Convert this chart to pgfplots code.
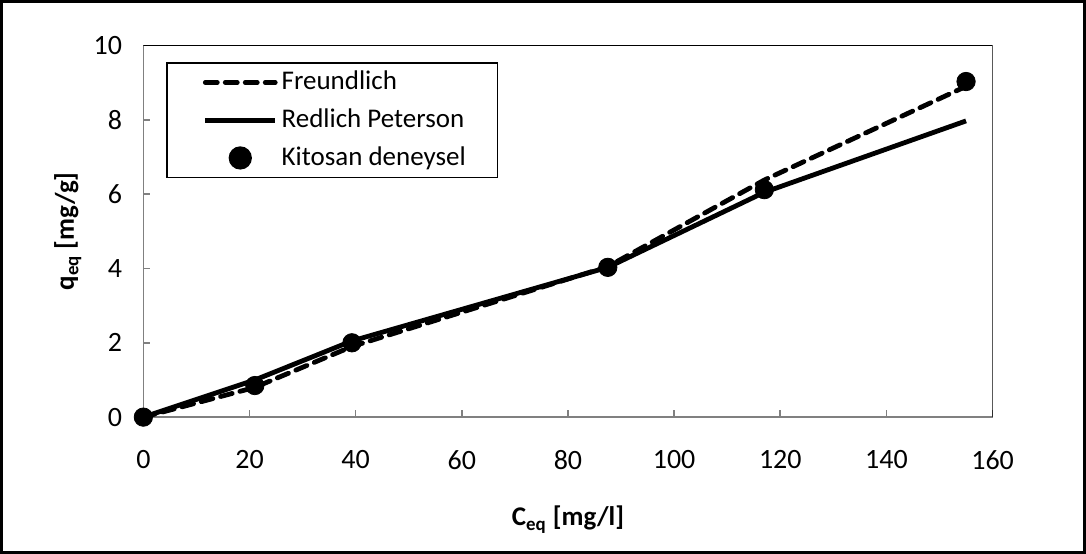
\documentclass[border=0pt]{standalone}
\usepackage{fontspec}
\setmainfont{Carlito}
\usepackage{pgfplots}
\pgfplotsset{compat=1.18}

\begin{document}
\fontsize{13.5}{16}\selectfont
\begin{tikzpicture}
\begin{axis}[
    scale only axis,
    width=425pt, height=186pt,
    xmin=0, xmax=160, ymin=0, ymax=10,
    xtick={0,20,...,160}, ytick={0,2,...,10},
    axis lines=left,
    axis line style={gray, line width=0.8pt, -},
    tick style={gray, line width=0.8pt},
    tick align=inside,
    major tick length=3.5pt,
    /pgf/number format/assume math mode=true,
    ticklabel style={font=\fontsize{14}{16}\selectfont},
    xticklabel style={yshift=-12pt},
    yticklabel style={xshift=-6pt},
    xlabel={\textbf{C\textsubscript{eq} [mg/l]}},
    ylabel={\textbf{q\textsubscript{eq} [mg/g]}},
    label style={font=\fontsize{13.5}{16}\selectfont},
    xlabel style={yshift=-9pt},
    ylabel style={yshift=-3pt},
    legend style={at={(rel axis cs:0,1)}, anchor=north west,
        xshift=11.5pt, yshift=-8.5pt, draw=black, line width=0.6pt,
        font=\fontsize{13.5}{16}\selectfont, row sep=3.5pt,
        inner xsep=0pt, inner ysep=2pt},
    legend cell align=left,
    legend image post style={line width=2.4pt},
    legend image code/.code={
        \path (0pt,0pt);
        \draw[#1] (18pt,0pt) -- (53pt,0pt);
    },
]
\draw[black, line width=0.6pt] (rel axis cs:0,1) -- (rel axis cs:1,1) -- (rel axis cs:1,0);

\addplot[black, line width=2.4pt, dash pattern=on 6pt off 4pt, line cap=round]
    coordinates {(0,0) (21,0.80) (39.3,1.90) (87.5,4.05) (117,6.38) (155,8.90)};
\addlegendentry{Freundlich}

\addplot[black, line width=2.4pt]
    coordinates {(0,0) (21,1.00) (39.3,2.05) (87.5,4.03) (117,6.05) (155,7.97)};
\addlegendentry{Redlich Peterson}

\addplot[only marks, mark=*, mark size=4.6pt, black,
    legend image code/.code={\path (0pt,0pt) (53pt,0pt); \fill[black] (35.5pt,0pt) circle (4.6pt);}]
    coordinates {(0,0) (21,0.85) (39.3,2.00) (87.5,4.03) (117,6.12) (155,9.03)};
\addlegendentry{Kitosan deneysel\rule{14pt}{0pt}}
\end{axis}
\draw[black, line width=1.5pt]
    ([xshift=-71pt,yshift=-67.5pt]current axis.south west) rectangle
    ([xshift=46pt,yshift=22pt]current axis.north east);
\end{tikzpicture}
\end{document}
